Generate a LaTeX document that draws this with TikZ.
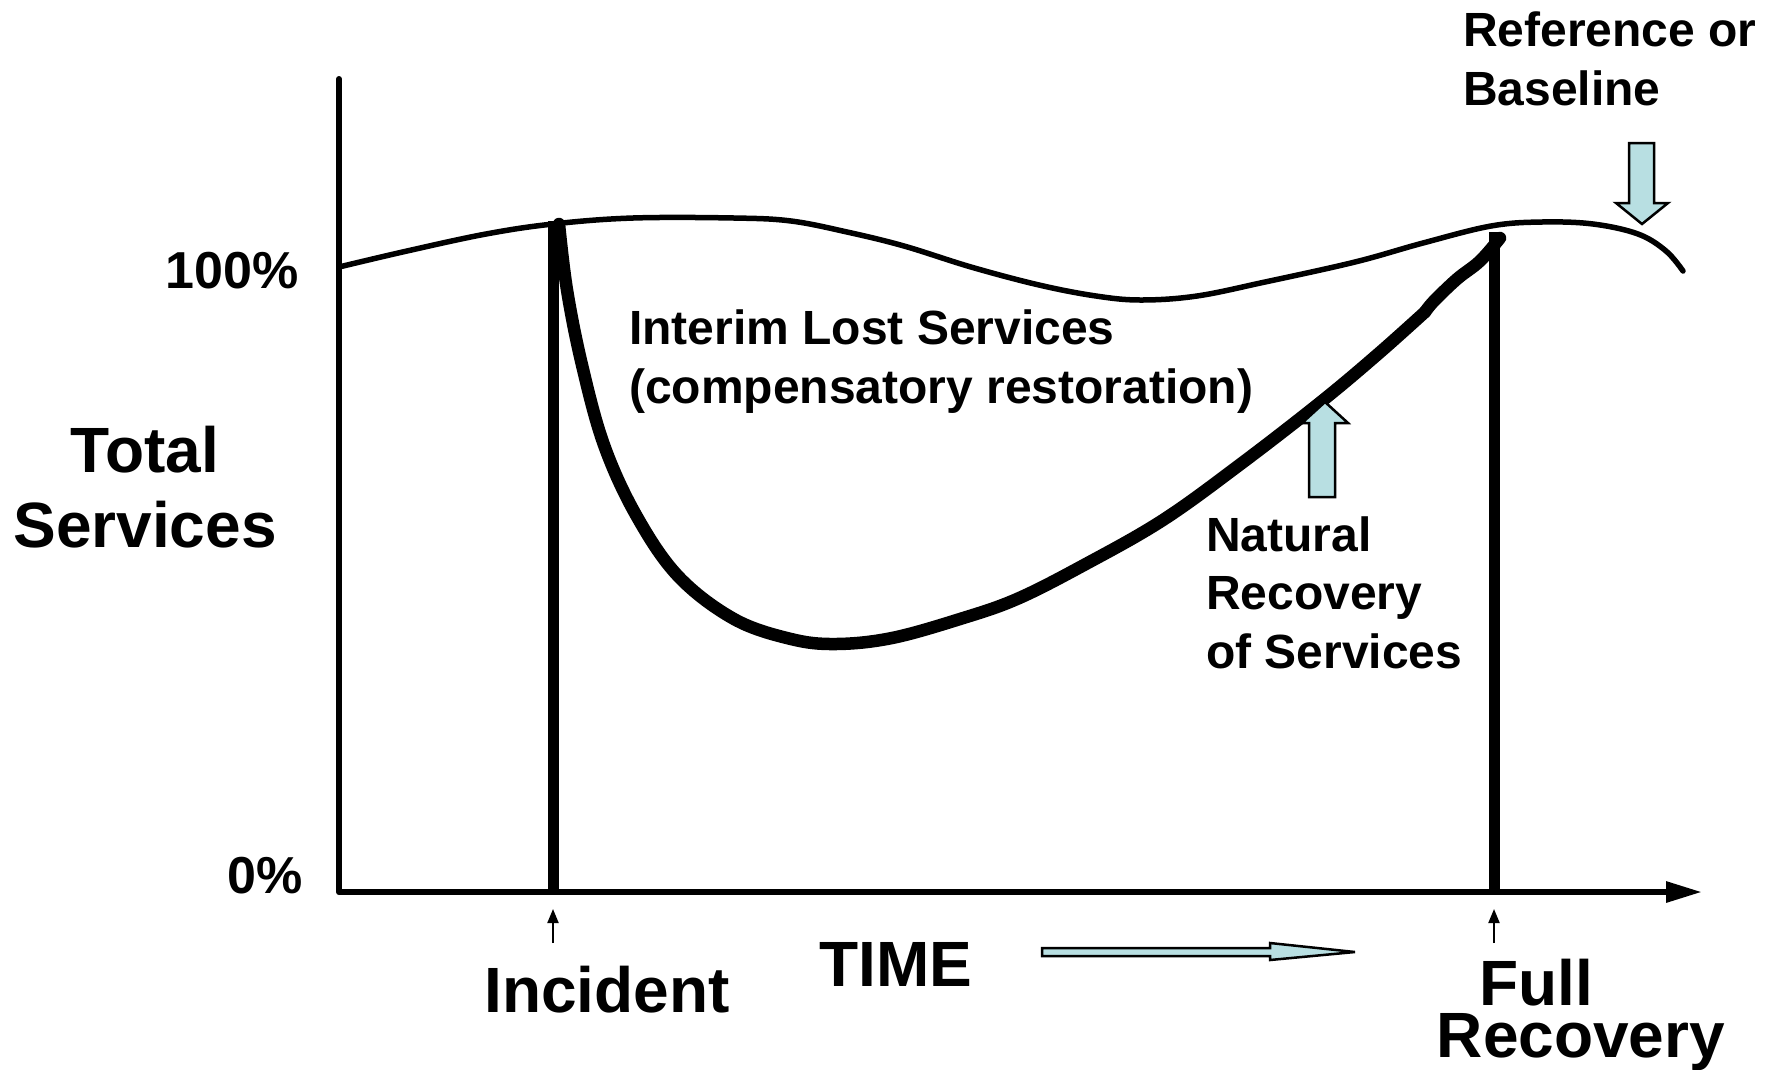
\documentclass[tikz,border=0pt]{standalone}
\usepackage{fontspec}
\setmainfont{Liberation Sans}
\usepackage{xcolor}
\definecolor{paleblue}{RGB}{184,223,226}
\usetikzlibrary{arrows.meta}
\newcommand{\bigsize}{\fontsize{64}{75}\selectfont\bfseries}
\newcommand{\midsize}{\fontsize{48}{58.5}\selectfont\bfseries}
\newcommand{\ticksize}{\fontsize{52}{60}\selectfont\bfseries}
\tikzset{
    big/.style={font=\bigsize, inner sep=0pt, anchor=base},
    mid/.style={font=\midsize, inner sep=0pt, align=left, anchor=base west},
    tick/.style={font=\ticksize, inner sep=0pt, anchor=base east},
    axis/.style={line width=6pt},
    marker/.style={line width=11pt},
    level/.style={line width=5.5pt, line cap=round},
    services/.style={line width=12.5pt, line cap=round, line join=round},
    blockarrow/.style={draw, fill=paleblue, line width=2.5pt, line join=miter},
    pointer/.style={line width=2pt, -{Triangle[length=14pt, width=11pt]}}
}

\begin{document}
\begin{tikzpicture}[x=1pt, y=-1pt]
    \useasboundingbox (0,0) rectangle (1771,1069);

    % axes
    \coordinate (origin) at (339,892);
    \coordinate (ytop) at (339,79);
    \coordinate (xend) at (1702,892);
    \draw[axis, line cap=round] (ytop) -- (origin);
    \draw[axis, -{Triangle[length=36pt, width=20pt]}] (origin) -- (xend);

    % incident and full recovery
    \coordinate (incident top) at (553,221);
    \coordinate (incident) at (553,892);
    \coordinate (full top) at (1494,232);
    \coordinate (full) at (1494,892);
    \draw[marker] (incident top) -- (incident);
    \draw[marker] (full top) -- (full);

    % reference level
    \draw[level] plot[smooth, tension=0.6] coordinates {
        (339,267) (407,251) (486,234) (553,224) (633,218) (734,218) (791,221)
        (847,232) (904,246) (971,267) (1039,285) (1096,296) (1141,300) (1197,296)
        (1265,282) (1355,262) (1423,243) (1491,226) (1542,222) (1593,224)
        (1638,234) (1666,251) (1683,271)};

    % services after the incident
    \draw[services] plot[smooth, tension=0.6] coordinates {
        (559,224) (567,290) (582,365) (604,445) (636,515) (678,576) (734,619)
        (791,639) (836,644) (892,638) (960,619) (1017,599) (1084,565) (1163,520)
        (1242,463) (1322,401) (1378,354) (1425,312)};
    \draw[services] plot[smooth, tension=0.6] coordinates {
        (1425,312) (1434,301) (1457,279) (1480,261) (1500,238)};

    % small pointers under the time axis
    \coordinate (incident tick) at (553,943);
    \coordinate (incident tip) at (553,909);
    \coordinate (full tick) at (1494,943);
    \coordinate (full tip) at (1494,909);
    \draw[pointer] (incident tick) -- (incident tip);
    \draw[pointer] (full tick) -- (full tip);

    % block arrows
    \draw[blockarrow] (1629,143) -- (1654,143) -- (1654,203) -- (1668,203)
        -- (1642,224) -- (1616,203) -- (1629,203) -- cycle;
    \draw[blockarrow] (1309,497) -- (1335,497) -- (1335,423) -- (1348,423)
        -- (1325,402) -- (1302,423) -- (1309,423) -- cycle;
    \draw[blockarrow] (1042,948) -- (1270,948) -- (1270,943) -- (1355,952)
        -- (1270,960) -- (1270,956) -- (1042,956) -- cycle;

    % labels (base anchor sits on the last line)
    \node[tick] (hundred) at (299,288) {100\%};
    \node[tick] (zero) at (303,893) {0\%};
    \node[big, align=center] (total) at (145,547) {Total\\Services};
    \node[mid] (interim) at (629,403) {Interim Lost Services\\(compensatory restoration)};
    \node[mid] (natural) at (1206,668) {Natural\\Recovery\\of Services};
    \node[mid] (reference) at (1463,105) {Reference or\\Baseline};
    \node[big] (time) at (896,986) {TIME};
    \node[big] (incident label) at (607,1012) {Incident};
    \node[big] (full label) at (1536,1005) {Full};
    \node[big] (recovery label) at (1581,1057) {Recovery};
\end{tikzpicture}
\end{document}
